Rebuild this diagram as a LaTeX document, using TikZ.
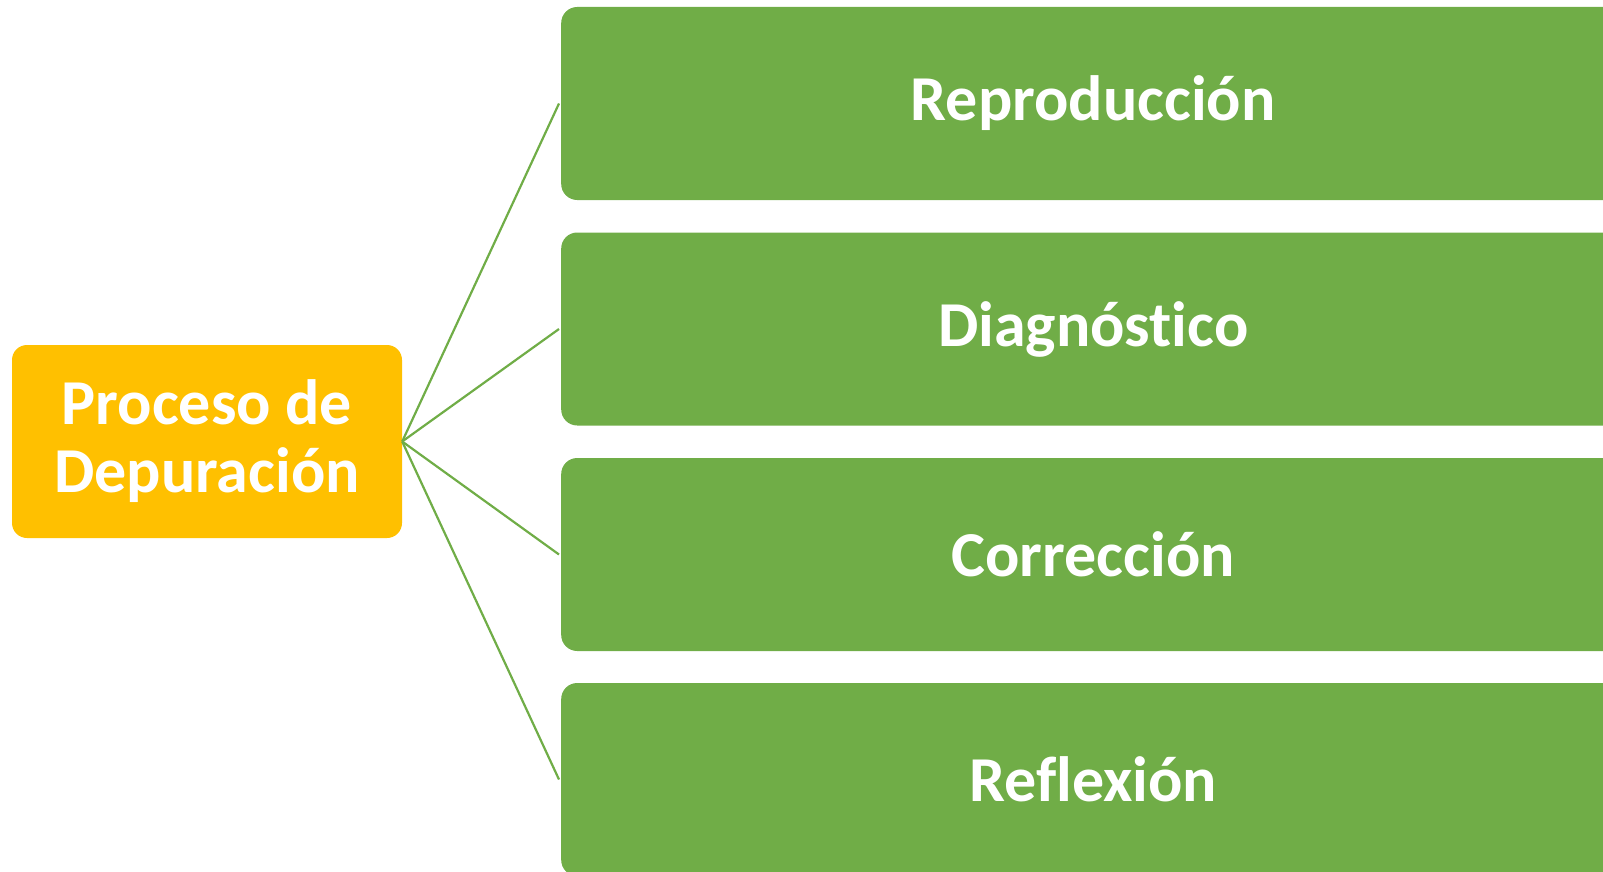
\documentclass[tikz,border=0pt]{standalone}
\usepackage{fontspec}
\setmainfont[Ligatures=NoCommon]{Carlito}
\definecolor{boxgreen}{HTML}{70AD47}
\definecolor{boxorange}{HTML}{FFC000}
\tikzset{
  stepbox/.style={fill=boxgreen, draw=none, rounded corners=16pt, minimum width=1064pt, minimum height=193pt, inner sep=0pt},
  rootbox/.style={fill=boxorange, draw=none, rounded corners=15pt, minimum width=390pt, minimum height=193pt, inner sep=0pt, align=center},
  boxtext/.style={text=white, font=\fontsize{64}{68}\selectfont\bfseries},
  link/.style={draw=boxgreen, line width=2.2pt}
}
\begin{document}
\begin{tikzpicture}[x=1pt,y=-1pt]
\useasboundingbox (0,0) rectangle (1603,872);
\clip (0,0) rectangle (1603,872);
\node[rootbox, boxtext] (root) at (207,441.5) {Proceso de\\Depuración};
\node[stepbox, boxtext, anchor=west] (s1) at (561,103.5) {Reproducción};
\node[stepbox, boxtext, anchor=west] (s2) at (561,329) {Diagnóstico};
\node[stepbox, boxtext, anchor=west] (s3) at (561,554.5) {Corrección};
\node[stepbox, boxtext, anchor=west] (s4) at (561,779.5) {Reflexión};
\foreach \s in {s1,s2,s3,s4}{
  \draw[link] (root.east) -- ([xshift=-2pt]\s.west);
}
\end{tikzpicture}
\end{document}
